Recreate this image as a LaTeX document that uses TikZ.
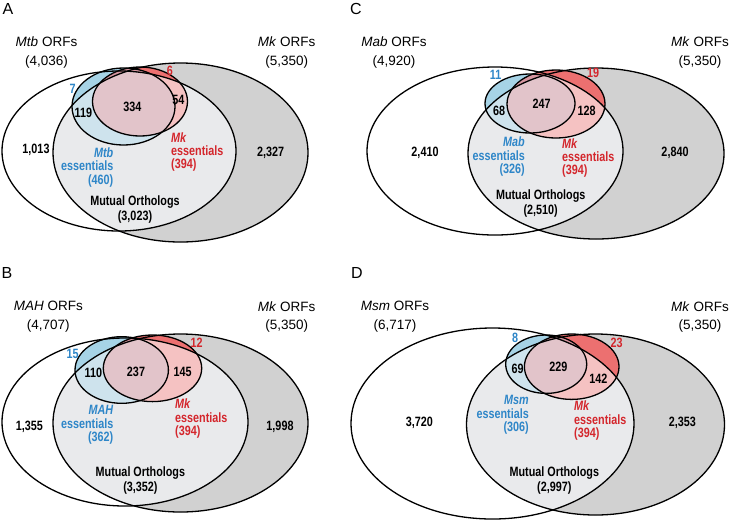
\documentclass[tikz,border=0pt]{standalone}
\usepackage{fontspec}
\newfontfamily\lab{Liberation Sans}
\newfontfamily\nar[FakeStretch=0.8]{Liberation Sans}
\definecolor{mkgrey}{RGB}{209,209,209}
\definecolor{lensgrey}{RGB}{233,234,236}
\definecolor{bsat}{RGB}{166,211,230}
\definecolor{bpale}{RGB}{206,227,237}
\definecolor{rsat}{RGB}{236,112,112}
\definecolor{rpale}{RGB}{245,194,194}
\definecolor{osat}{RGB}{214,150,160}
\definecolor{opale}{RGB}{226,196,202}
\definecolor{tblue}{RGB}{46,134,200}
\definecolor{tred}{RGB}{212,38,44}
\newcommand\vennpanel[4]{%
  \fill[white] #1; \fill[mkgrey] #2;
  \begin{scope}\clip #1; \fill[lensgrey] #2; \end{scope}
  \fill[bsat] #3; \fill[rsat] #4;
  \begin{scope}\clip #3; \fill[osat] #4; \end{scope}
  \begin{scope}\clip #1; \clip #2; \fill[bpale] #3; \fill[rpale] #4; \clip #3; \fill[opale] #4; \end{scope}
  \draw[vline] #1; \draw[vline] #2; \draw[vline] #3; \draw[vline] #4;
}
\begin{document}
\begin{tikzpicture}[x=1pt,y=-1pt,
  vline/.style={draw=black,line width=1.3pt},
  orf/.style={font=\lab\fontsize{13.5}{18.4}\selectfont,align=center,inner sep=0pt},
  plet/.style={font=\lab\fontsize{16}{18}\selectfont,inner sep=0pt},
  num/.style={font=\nar\bfseries\fontsize{13.5}{13.3}\selectfont,inner sep=0pt},
  bnum/.style={num,text=tblue},
  rnum/.style={num,text=tred},
  essb/.style={num,text=tblue,align=right,anchor=east},
  essr/.style={num,text=tred,align=left,anchor=west},
  mut/.style={font=\nar\bfseries\fontsize{13.5}{15}\selectfont,align=center,inner sep=0pt}]
\useasboundingbox (0,0) rectangle (730,523);
% ---------- Panel A
\vennpanel{(119,151) ellipse [x radius=117, y radius=80]}
  {(180.5,152.5) ellipse [x radius=127.5, y radius=89.5]}
  {(123.5,106.5) ellipse [x radius=51.5, y radius=38.5]}
  {(140,101.5) ellipse [x radius=47.5, y radius=34.5]}
\node[plet] (pa) at (8,9) {A};
\node[orf] (a1) at (46.5,52.5) {\textit{Mtb} ORFs\\(4,036)};
\node[orf] (a2) at (286.7,52.5) {\textit{Mk} ORFs\\(5,350)};
\node[bnum] (a3) at (72.7,89.3) {7};
\node[rnum] (a4) at (170,70.7) {6};
\node[num] (a5) at (132.3,106.7) {334};
\node[num] (a6) at (83.3,113.3) {119};
\node[num] (a7) at (178.3,100) {54};
\node[num] (a8) at (36,150) {1,013};
\node[num] (a9) at (270.7,152.7) {2,327};
\node[essb] (a10) at (113.5,167.3) {\textit{Mtb}\\essentials\\(460)};
\node[essr] (a11) at (171,152) {\textit{Mk}\\essentials\\(394)};
\node[mut] (a12) at (135,209.8) {Mutual Orthologs\\(3,023)};
% ---------- Panel B
\vennpanel{(125,422) ellipse [x radius=123, y radius=84]}
  {(180.5,423) ellipse [x radius=127.5, y radius=89]}
  {(121.7,370) ellipse [x radius=46.7, y radius=33.3]}
  {(152.5,368.3) ellipse [x radius=49.2, y radius=33.3]}
\node[plet] (pb) at (7,273) {B};
\node[orf] (b1) at (48.3,316.7) {\textit{MAH} ORFs\\(4,707)};
\node[orf] (b2) at (286.7,316.7) {\textit{Mk} ORFs\\(5,350)};
\node[bnum] (b3) at (72.7,354.3) {15};
\node[rnum] (b4) at (196.7,342.7) {12};
\node[num] (b5) at (93.3,372.7) {110};
\node[num] (b6) at (136,371.7) {237};
\node[num] (b7) at (182.7,371.7) {145};
\node[num] (b8) at (29.3,426.7) {1,355};
\node[num] (b9) at (280,426.7) {1,998};
\node[essb] (b10) at (113.5,425) {\textit{MAH}\\essentials\\(362)};
\node[essr] (b11) at (175,418.5) {\textit{Mk}\\essentials\\(394)};
\node[mut] (b12) at (140.4,480.8) {Mutual Orthologs\\(3,352)};
% ---------- Panel C
\vennpanel{(495,151) ellipse [x radius=128, y radius=84]}
  {(596,153.5) ellipse [x radius=128, y radius=85.5]}
  {(530,103.5) ellipse [x radius=45, y radius=29.5]}
  {(556,104) ellipse [x radius=49, y radius=34]}
\node[plet] (pc) at (356,9) {C};
\node[orf] (c1) at (394,52.5) {\textit{Mab} ORFs\\(4,920)};
\node[orf] (c2) at (700,52.5) {\textit{Mk} ORFs\\(5,350)};
\node[bnum] (c3) at (495.7,75) {11};
\node[rnum] (c4) at (593,72.7) {19};
\node[num] (c5) at (541.7,104) {247};
\node[num] (c6) at (499,110.7) {68};
\node[num] (c7) at (586.7,110.7) {128};
\node[num] (c8) at (425,153) {2,410};
\node[num] (c9) at (675,153) {2,840};
\node[essb] (c10) at (525,156.7) {\textit{Mab}\\essentials\\(326)};
\node[essr] (c11) at (562,158) {\textit{Mk}\\essentials\\(394)};
\node[mut] (c12) at (540.7,204) {Mutual Orthologs\\(2,510)};
% ---------- Panel D
\vennpanel{(492.5,423.5) ellipse [x radius=141.5, y radius=95.5]}
  {(595.5,424.5) ellipse [x radius=129, y radius=90.5]}
  {(546.2,364.2) ellipse [x radius=40.5, y radius=29.2]}
  {(571.7,366.7) ellipse [x radius=47.3, y radius=32.7]}
\node[plet] (pd) at (357,273) {D};
\node[orf] (d1) at (395,316.7) {\textit{Msm} ORFs\\(6,717)};
\node[orf] (d2) at (700,316.7) {\textit{Mk} ORFs\\(5,350)};
\node[bnum] (d3) at (515,338.3) {8};
\node[rnum] (d4) at (616.7,342.7) {23};
\node[num] (d5) at (517.7,369.3) {69};
\node[num] (d6) at (558.3,366.7) {229};
\node[num] (d7) at (598.3,378.3) {142};
\node[num] (d8) at (419.3,423.3) {3,720};
\node[num] (d9) at (682.3,423.3) {2,353};
\node[essb] (d10) at (529,415) {\textit{Msm}\\essentials\\(306)};
\node[essr] (d11) at (574,420.7) {\textit{Mk}\\essentials\\(394)};
\node[mut] (d12) at (554.3,480.2) {Mutual Orthologs\\(2,997)};
\end{tikzpicture}
\end{document}
